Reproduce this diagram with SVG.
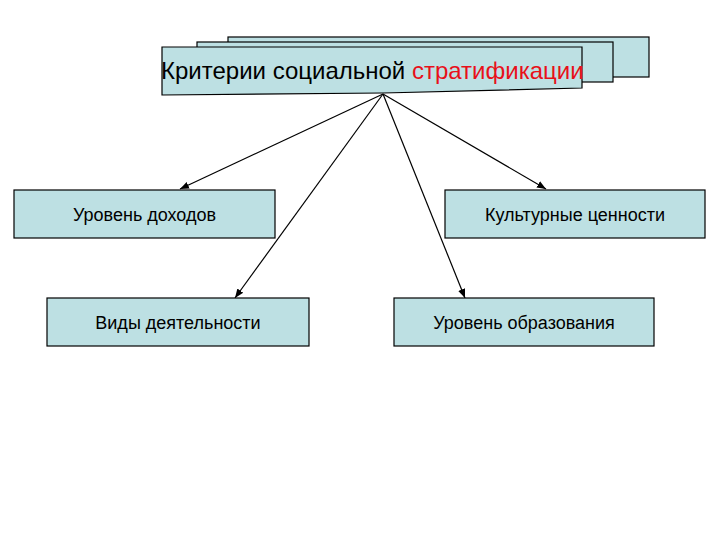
<svg xmlns="http://www.w3.org/2000/svg" width="720" height="540" viewBox="0 0 720 540">
<style>
.box{fill:#bde0e3;stroke:#000;stroke-width:1.2}
.t{font-family:"Liberation Sans",Arial,sans-serif;font-size:18px;fill:#000;text-anchor:middle}
.title{font-family:"Liberation Sans",Arial,sans-serif;font-size:24px;fill:#000}
.c{stroke:#000;stroke-width:1.2;fill:none;marker-end:url(#ah)}
</style>
<defs>
<marker id="ah" viewBox="0 0 10 10" refX="10" refY="5" markerWidth="9" markerHeight="9" markerUnits="userSpaceOnUse" orient="auto">
<path d="M0,1 L10,5 L0,9 Z" fill="#000"/>
</marker>
</defs>
<rect width="720" height="540" fill="#fff"/>
<g id="title">
<rect class="box" x="228" y="37" width="421" height="40"/>
<rect class="box" x="197" y="42" width="416" height="40"/>
<path class="box" d="M162,47 L582,47 L582,88 L383,93 L162,95 Z"/>
<text class="title" x="161" y="79">Критерии социальной <tspan fill="#e8101a">стратификации</tspan></text>
</g>
<g id="connectors">
<line class="c" x1="383" y1="94" x2="180" y2="189"/>
<line class="c" x1="383" y1="94" x2="235" y2="298"/>
<line class="c" x1="383" y1="94" x2="465" y2="298"/>
<line class="c" x1="383" y1="94" x2="546" y2="189"/>
</g>
<g id="n1">
<rect class="box" x="14" y="190" width="261" height="48"/>
<text class="t" x="144.5" y="221">Уровень доходов</text>
</g>
<g id="n2">
<rect class="box" x="445" y="190" width="260" height="48"/>
<text class="t" x="575" y="221">Культурные ценности</text>
</g>
<g id="n3">
<rect class="box" x="47" y="298" width="262" height="48"/>
<text class="t" x="178" y="329">Виды деятельности</text>
</g>
<g id="n4">
<rect class="box" x="394" y="298" width="260" height="48"/>
<text class="t" x="524" y="329">Уровень образования</text>
</g>
</svg>
